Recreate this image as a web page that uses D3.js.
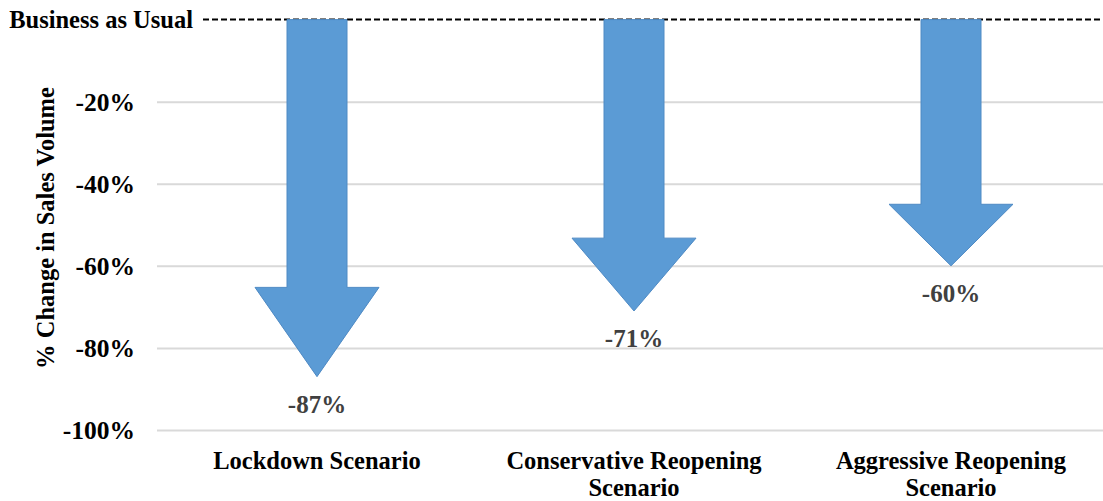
<!DOCTYPE html>
<html>
<head>
<meta charset="utf-8">
<script src="https://cdn.jsdelivr.net/npm/d3@7/dist/d3.min.js"></script>
<style>
  html, body { margin: 0; padding: 0; background: #fff; }
  svg text { font-family: "Liberation Serif", "Times New Roman", serif; font-weight: bold; }
</style>
</head>
<body>
<svg id="chart" width="1103" height="501"></svg>
<script>
// Scenario outcomes: percentage change in sales volume versus business as usual
const scenarios = ["Lockdown Scenario", "Conservative Reopening Scenario", "Aggressive Reopening Scenario"];
const scenarioLines = [["Lockdown Scenario"], ["Conservative Reopening", "Scenario"], ["Aggressive Reopening", "Scenario"]];
const changes = [-87, -71, -60];
const tickValues = [-20, -40, -60, -80, -100];
const baselineLabel = "Business as Usual";
const axisTitle = "% Change in Sales Volume";

const svg = d3.select("#chart");
const W = 1103;

const x = d3.scaleBand().domain(scenarios).range([158.5, 1109.5]).paddingInner(0).paddingOuter(0);
const y = d3.scaleLinear().domain([0, -100]).range([19.6, 430]);

// horizontal gridlines with percentage labels
const yAxis = d3.axisLeft(y).tickValues(tickValues).tickSize(-(W - 157)).tickFormat(d => d + "%");
const gAxis = svg.append("g").attr("transform", "translate(157,0)").call(yAxis);
gAxis.select(".domain").remove();
gAxis.selectAll(".tick line").attr("stroke", "#d9d9d9").attr("stroke-width", 2);
gAxis.selectAll(".tick text")
  .attr("x", -22)
  .attr("dy", "0.35em")
  .attr("fill", "#000")
  .style("font-size", "25.5px")
  .style("font-family", "'Liberation Serif', serif")
  .style("font-weight", "bold");

// baseline (0%) dashed reference
svg.append("line")
  .attr("x1", 203).attr("x2", W)
  .attr("y1", y(0)).attr("y2", y(0))
  .attr("stroke", "#000").attr("stroke-width", 2)
  .attr("stroke-dasharray", "6,3");

svg.append("text")
  .attr("x", 193).attr("y", y(0) + 8)
  .attr("text-anchor", "end")
  .style("font-size", "24.5px")
  .text(baselineLabel);

// y-axis title
svg.append("text")
  .attr("transform", `translate(54,${228}) rotate(-90)`)
  .attr("text-anchor", "middle")
  .style("font-size", "24.5px")
  .text(axisTitle);

// downward block arrows
const shaftW = 60, headW = 124;
function arrowPath(cx, v) {
  const top = y(0), tip = y(v);
  const headStart = tip - 0.25 * (tip - top);
  return [
    [cx - shaftW / 2, top], [cx + shaftW / 2, top],
    [cx + shaftW / 2, headStart], [cx + headW / 2, headStart],
    [cx, tip],
    [cx - headW / 2, headStart], [cx - shaftW / 2, headStart]
  ];
}

const g = svg.append("g");
scenarios.forEach((s, i) => {
  const cx = x(s) + x.bandwidth() / 2;
  g.append("path")
    .attr("d", d3.line()(arrowPath(cx, changes[i])) + "Z")
    .attr("fill", "#5b9bd5")
    .attr("stroke", "#4f8ac4")
    .attr("stroke-width", 1);

  g.append("text")
    .attr("x", cx).attr("y", y(changes[i]) + 36)
    .attr("text-anchor", "middle")
    .attr("fill", "#404040")
    .style("font-size", "25px")
    .text(changes[i] + "%");

  const t = svg.append("text")
    .attr("text-anchor", "middle")
    .style("font-size", "24.5px");
  scenarioLines[i].forEach((ln, j) => {
    t.append("tspan").attr("x", cx).attr("y", 469 + j * 27).text(ln);
  });
});
</script>
</body>
</html>
